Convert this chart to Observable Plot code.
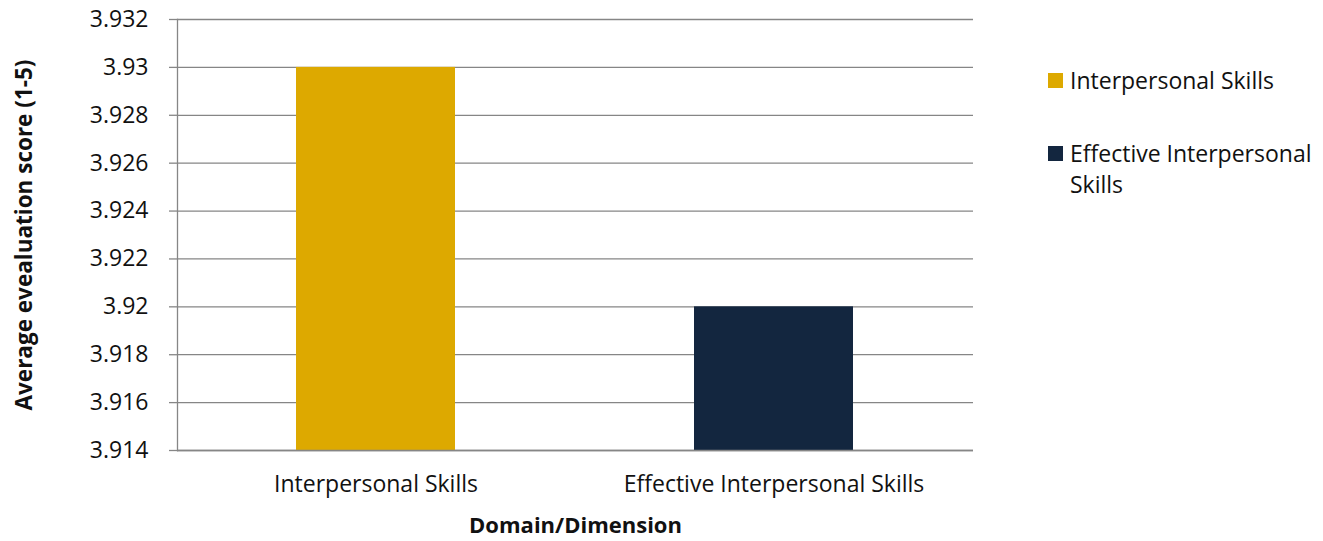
<!DOCTYPE html>
<html>
<head>
<meta charset="utf-8">
<script src="https://cdn.jsdelivr.net/npm/d3@7"></script>
<script src="https://cdn.jsdelivr.net/npm/@observablehq/plot@0.6"></script>
<style>
  html, body { margin: 0; padding: 0; background: #fff; }
  #wrap { position: relative; width: 1323px; height: 541px; font-family: "Open Sans", sans-serif; }
  #legend { position: absolute; left: 1048px; top: 65px; width: 275px; font-size: 23px; color: #111; }
  .item { display: flex; align-items: flex-start; line-height: 31px; }
  .sw { width: 15px; height: 15px; margin-top: 8px; margin-right: 7px; flex: none; }
  .item + .item { margin-top: 42px; }
</style>
</head>
<body>
<div id="wrap"></div>
<script>
const categories = ["Interpersonal Skills", "Effective Interpersonal Skills"];
const scores = [3.930, 3.920];
const colors = ["#DDA900", "#13263F"];
const yTicks = [3.914, 3.916, 3.918, 3.920, 3.922, 3.924, 3.926, 3.928, 3.930, 3.932];
const yLabel = "Average evealuation score (1-5)";
const xLabel = "Domain/Dimension";

const data = categories.map((c, i) => ({cat: c, value: scores[i], color: colors[i]}));

const boundaryTicks = (index, scales, values, dims) => {
  const g = d3.create("svg:g");
  const n = categories.length;
  const w = dims.width - dims.marginLeft - dims.marginRight;
  const y0 = dims.height - dims.marginBottom;
  for (let i = 0; i <= n; i++) {
    const x = dims.marginLeft + i * w / n;
    g.append("line").attr("x1", x).attr("x2", x).attr("y1", y0).attr("y2", y0 + 8)
      .attr("stroke", "#868686").attr("stroke-width", 1.3);
  }
  return g.node();
};

const chart = Plot.plot({
  width: 1323,
  height: 541,
  marginLeft: 177,
  marginRight: 350,
  marginTop: 19,
  marginBottom: 91,
  style: {fontFamily: "Open Sans, sans-serif", fontSize: "23px", color: "#111", background: "#fff"},
  x: {domain: categories, paddingInner: 0.6, paddingOuter: 0.3, label: null},
  y: {domain: [3.914, 3.932], label: null},
  marks: [
    Plot.gridY(yTicks, {stroke: "#868686", strokeOpacity: 1, strokeWidth: 1.3}),
    Plot.barY(data, {x: "cat", y1: 3.914, y2: "value", fill: "color"}),
    Plot.ruleX([0], {render: boundaryTicks}),
    Plot.frame({anchor: "left", stroke: "#868686", strokeWidth: 1.3}),
    Plot.ruleY([3.914], {stroke: "#868686", strokeWidth: 1.3}),
    Plot.axisY(yTicks, {tickSize: 8, tickPadding: 21, stroke: "#868686", strokeWidth: 1.3, tickFormat: d => String(d), fontSize: 23, fill: "#111", label: null}),
    Plot.axisX({tickSize: 0, tickPadding: 25, fontSize: 23, fill: "#111", label: null}),
    Plot.text([yLabel], {frameAnchor: "left", textAnchor: "middle", dx: -153, rotate: -90, fontWeight: "bold", fontSize: 22.5, fill: "#111"}),
    Plot.text([xLabel], {frameAnchor: "bottom", dy: 82, fontWeight: "bold", fontSize: 22, fill: "#111"})
  ]
});

const wrap = document.getElementById("wrap");
wrap.appendChild(chart);

const legend = document.createElement("div");
legend.id = "legend";
legend.innerHTML = categories.map((c, i) =>
  `<div class="item"><span class="sw" style="background:${colors[i]}"></span><span>${c === "Effective Interpersonal Skills" ? "Effective Interpersonal<br>Skills" : c}</span></div>`
).join("");
wrap.appendChild(legend);
</script>
</body>
</html>
